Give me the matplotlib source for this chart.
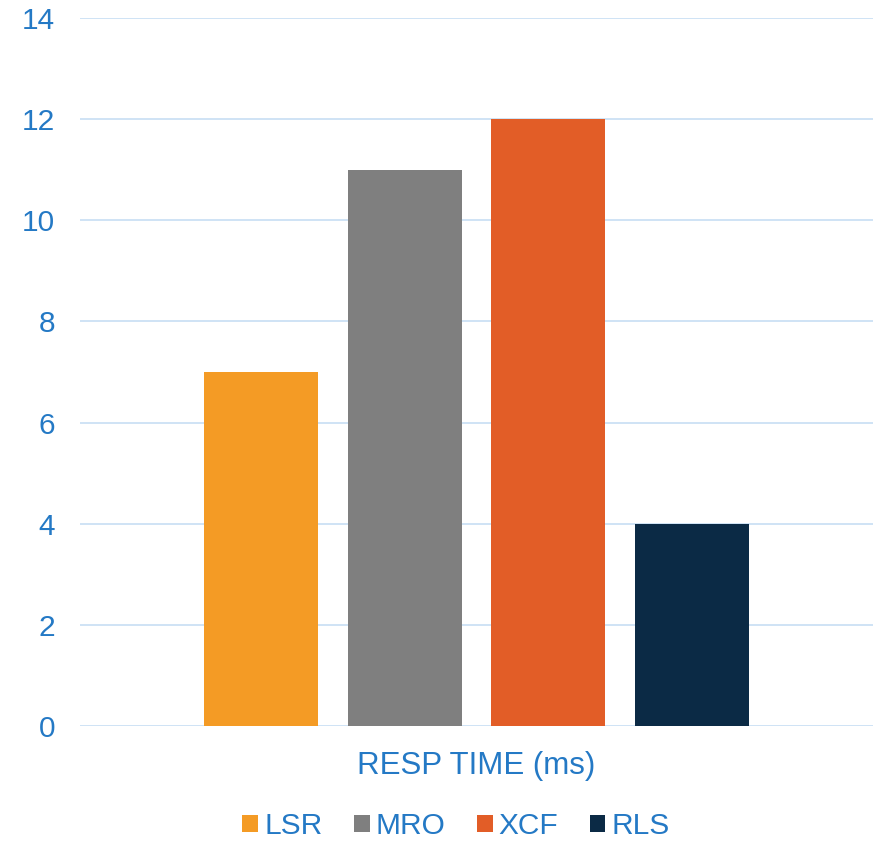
import matplotlib.pyplot as plt
from matplotlib.patches import Patch

# Data
series = ["LSR", "MRO", "XCF", "RLS"]
values = [7, 11, 12, 4]
colors = ["#F49B25", "#7F7F7F", "#E25D27", "#0B2A45"]
category = "RESP TIME (ms)"
yticks = [0, 2, 4, 6, 8, 10, 12, 14]

BLUE = "#2479C5"
GRID = "#CCE0F4"

plt.rcParams['font.family'] = ['Liberation Sans', 'DejaVu Sans']

fig = plt.figure(figsize=(8.74, 8.41), dpi=100)
ax = fig.add_axes([80 / 874, 1 - 726 / 841, 793 / 874, 708 / 841])

pos = list(range(len(series)))
ax.bar(pos, values, width=0.794, color=colors, zorder=3)

ax.set_xlim(-1.26, 4.26)
ax.set_ylim(0, 14)
ax.set_yticks(yticks)
ax.set_xticks([])
ax.yaxis.grid(True, color=GRID, linewidth=1.3, zorder=0)
ax.tick_params(axis='y', length=0, pad=18, labelsize=21.5, labelcolor=BLUE)
for s in ax.spines.values():
    s.set_visible(False)

ax.set_xlabel(category, fontsize=22.5, color=BLUE, labelpad=18)

handles = [Patch(facecolor=c, label=s) for s, c in zip(series, colors)]
fig.legend(handles=handles, loc='center', bbox_to_anchor=(456 / 874, 1 - 826 / 841),
           ncol=4, frameon=False, fontsize=21.5, labelcolor=BLUE,
           handlelength=0.53, handleheight=0.53, handletextpad=0.2, columnspacing=1.05)

fig.savefig("out.png", dpi=100)
